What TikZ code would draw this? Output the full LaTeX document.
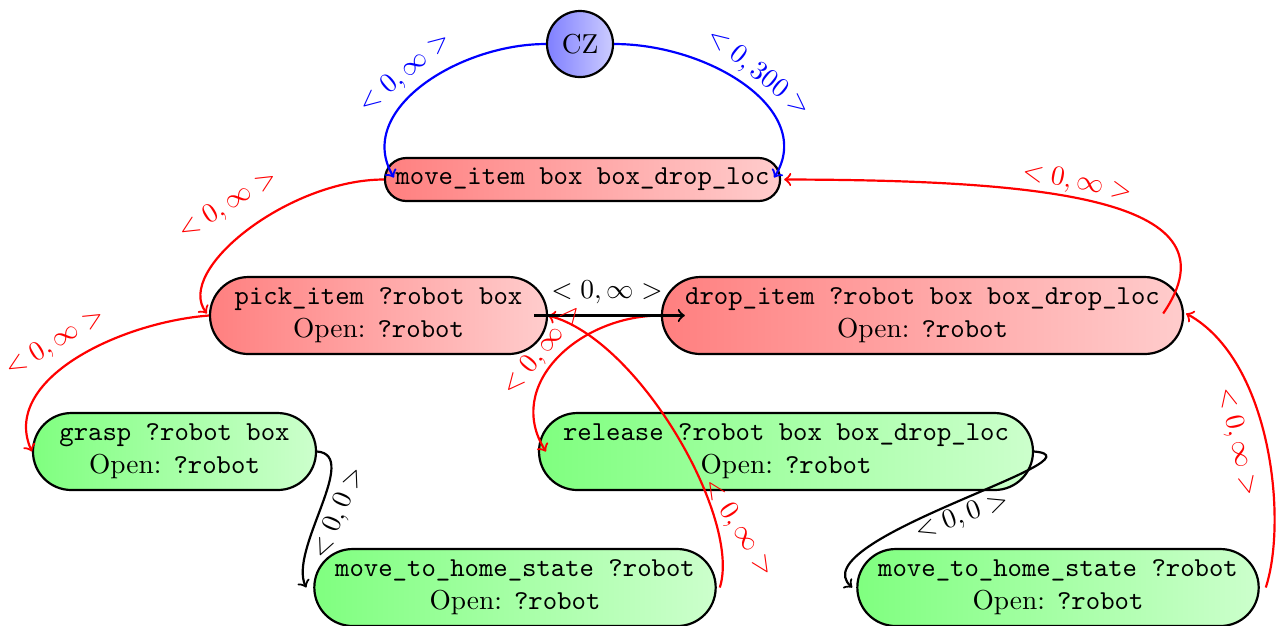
\documentclass[tikz,border=0pt]{standalone}
\usetikzlibrary{calc}

\tikzset{
  act/.style={draw, thick, rectangle, align=center, inner sep=0pt},
  plan/.style={act, left color=red!50, right color=red!20},
  prim/.style={act, left color=green!50, right color=green!20},
  twoline/.style={minimum height=28.1pt, rounded corners=14pt},
  czstyle/.style={draw, thick, circle, inner sep=0pt, minimum size=24.1pt,
                  left color=blue!50, right color=blue!20},
  link/.style={thick, ->},
  lbl/.style={inner sep=0pt}
}

\begin{document}
\begin{tikzpicture}[x=0.365pt, y=-0.365pt]
\useasboundingbox (0,0) rectangle (1283,625);

% ---- tasks ----
\node[czstyle] (cz) at (580,44) {CZ};
\node[plan, minimum width=144.2pt, minimum height=15.7pt, rounded corners=7.8pt]
  (move) at (582.5,179.5) {\texttt{move\_item box box\_drop\_loc}};
\node[plan, twoline, minimum width=123pt] (pick) at (378.5,315.5)
  {\texttt{pick\_item ?robot box}\\Open: \texttt{?robot}};
\node[plan, twoline, minimum width=190.2pt] (drop) at (922.5,315.5)
  {\texttt{drop\_item ?robot box box\_drop\_loc}\\Open: \texttt{?robot}};
\node[prim, twoline, minimum width=103.3pt] (grasp) at (174.5,451.5)
  {\texttt{grasp ?robot box}\\Open: \texttt{?robot}};
\node[prim, twoline, minimum width=180.3pt] (release) at (786,451.5)
  {\texttt{release ?robot box box\_drop\_loc}\\Open: \texttt{?robot}};
\node[prim, twoline, minimum width=146.5pt] (homeL) at (515,587.5)
  {\texttt{move\_to\_home\_state ?robot}\\Open: \texttt{?robot}};
\node[prim, twoline, minimum width=146.5pt] (homeR) at (1058,587.5)
  {\texttt{move\_to\_home\_state ?robot}\\Open: \texttt{?robot}};

% ---- constraints from the CZ ----
\draw[link, blue] (cz.west) .. controls +(-87,0) and +(-40,-67.5) .. ($(move.west)+(10,-2)$);
\draw[link, blue] (cz.east) .. controls +(95,0) and +(42,-67.5) .. ($(move.east)+(-7,-2)$);

% ---- decomposition links ----
\draw[link, red] (move.west) .. controls +(-95,0) and +(-33,-43.5) .. ($(pick.west)+(-2,-2)$);
\draw[link, red] (pick.west) .. controls +(-90,7) and +(-32,-71.5) .. (grasp.west);
\draw[link, red] (drop.west) .. controls +(-82,0) and +(-42,-66.5) .. ($(release.west)+(8,0)$);
\draw[link, red] ($(homeL.east)+(3,0)$) .. controls +(22,-67.5) and +(92,24.5) .. (pick.east);
\draw[link, red] ($(drop.east)+(-21,-2)$) .. controls +(78,-113.5) and +(267,0.5) .. ($(move.east)+(3,0)$);
\draw[link, red] ($(homeR.east)+(6,0)$) .. controls +(22,-67.5) and +(85,46.5) .. ($(drop.east)+(2,-2)$);

% ---- ordering links ----
\draw[link] ($(pick.east)+(-14,0)$) -- ($(drop.west)+(24,0)$);
\draw[link] (grasp.east) .. controls +(44,3.5) and +(-18,-37.5) .. ($(homeL.west)+(-7,0)$);
\draw[link] (release.east) .. controls +(77,6.5) and +(-53,-47.5) .. ($(homeR.west)+(-4,0)$);

% ---- interval labels ----
\node[lbl, blue, rotate=40]  (l1) at (405,73)   {$<0,\infty>$};
\node[lbl, blue, rotate=-39] (l2) at (758,73)   {$<0,300>$};
\node[lbl, red, rotate=31.5] (l3) at (228,205)  {$<0,\infty>$};
\node[lbl, red, rotate=31]   (l4) at (55,343)   {$<0,\infty>$};
\node[lbl]                   (l5) at (607,292)  {$<0,\infty>$};
\node[lbl, red, rotate=50]   (l6) at (543,350)  {$<0,\infty>$};
\node[lbl, red, rotate=-57]  (l7) at (738,528)  {$<0,\infty>$};
\node[lbl, red, rotate=-11]  (l8) at (1077,183) {$<0,\infty>$};
\node[lbl, red, rotate=-77]  (l9) at (1237,442) {$<0,\infty>$};
\node[lbl, rotate=67]        (l10) at (339,513) {$<0,0>$};
\node[lbl, rotate=20]        (l11) at (962,517) {$<0,0>$};
\end{tikzpicture}
\end{document}
